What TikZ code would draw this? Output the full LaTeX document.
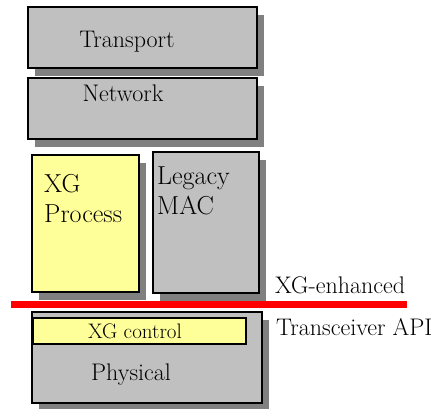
\documentclass[tikz,border=0pt]{standalone}
\usetikzlibrary{shadows}

\definecolor{layergray}{HTML}{C0C0C0}
\definecolor{shadowgray}{HTML}{808080}
\definecolor{xgyellow}{HTML}{FFFF99}

\begin{document}
\begin{tikzpicture}[x=1pt,y=-1pt,
    layer/.style={draw=black,line width=1.3pt,fill=layergray,inner sep=0pt,
      drop shadow={shadow xshift=7pt,shadow yshift=-8pt,fill=shadowgray,opacity=1}},
    xglayer/.style={layer,fill=xgyellow},
    lbl/.style={inner sep=0pt,font=\fontsize{24}{28}\selectfont},
    biglbl/.style={inner sep=0pt,align=left,font=\fontsize{26}{30}\selectfont}]
    \useasboundingbox (0,0) rectangle (434,408);

    % upper stack
    \node[layer,minimum width=229pt,minimum height=61pt] (transport) at (142.5,37.5) {};
    \node[layer,minimum width=229pt,minimum height=61pt] (network) at (142.5,108.5) {};
    \node[xglayer,minimum width=107pt,minimum height=137pt] (xgproc) at (85.5,223.5) {};
    \node[layer,minimum width=106pt,minimum height=141pt] (legacy) at (206,222.5) {};

    % physical layer
    \node[layer,minimum width=230pt,minimum height=91pt] (phy) at (147,357.5) {};
    \node[draw=black,line width=1.3pt,fill=xgyellow,minimum width=213pt,minimum height=26pt] (xgctrl) at (139.5,331) {};

    % separator
    \coordinate (sepL) at (11,304);
    \coordinate (sepR) at (407,304);
    \draw[red,line width=7pt] (sepL) -- (sepR);

    % labels
    \node[lbl] (transportlbl) at (127,42) {Transport};
    \node[lbl] (networklbl) at (123,93) {Network};
    \node[biglbl,anchor=north west] (xgproclbl) at (44,174) {XG\\Process};
    \node[biglbl,anchor=north west] (legacylbl) at (157,167) {Legacy\\MAC};
    \node[inner sep=0pt,font=\fontsize{21}{24}\selectfont] (xgctrllbl) at (135,331) {XG control};
    \node[lbl] (phylbl) at (131,375) {Physical};
    \node[lbl,anchor=base west] (enhlbl) at (275,293) {XG-enhanced};
    \node[lbl,anchor=base west] (apilbl) at (276,335) {Transceiver API};
\end{tikzpicture}
\end{document}
